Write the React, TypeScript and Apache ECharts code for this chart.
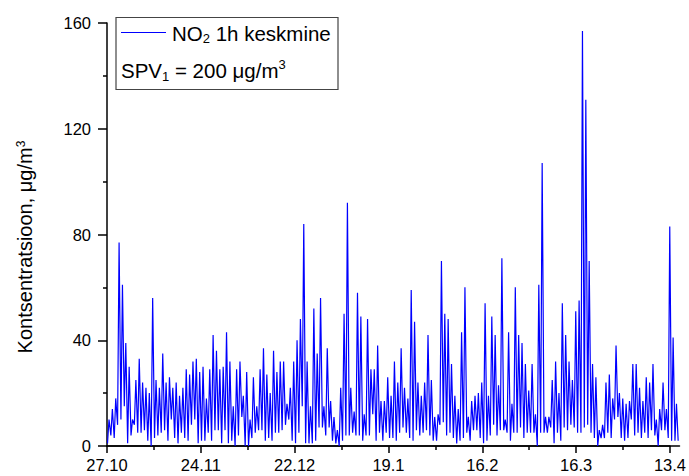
import React, { useEffect, useRef } from "react";
import * as echarts from "echarts";

// Day offsets are counted from 27.10; one high and one low per day
const tickLabels = ["27.10", "24.11", "22.12", "19.1", "16.2", "16.3", "13.4"];

const dailyHigh = [
  10, 14, 18, 77, 61, 39, 30, 10, 25, 33,
  24, 22, 20, 56, 25, 22, 35, 24, 26, 22,
  24, 19, 22, 29, 27, 32, 33, 28, 30, 18,
  29, 42, 36, 29, 30, 43, 32, 15, 29, 32,
  19, 28, 10, 26, 15, 29, 37, 27, 20, 36,
  28, 32, 32, 16, 22, 32, 40, 48, 84, 32,
  15, 52, 35, 56, 15, 37, 17, 11, 6, 22,
  50, 92, 22, 13, 58, 49, 12, 48, 29, 29,
  38, 17, 17, 26, 19, 32, 24, 37, 22, 18,
  59, 47, 24, 19, 24, 42, 25, 11, 12, 70,
  50, 48, 31, 19, 14, 43, 60, 11, 17, 19,
  20, 24, 54, 19, 49, 42, 23, 71, 10, 43,
  16, 60, 42, 39, 31, 21, 31, 12, 61, 107,
  11, 11, 25, 32, 20, 54, 42, 32, 25, 51,
  55, 157, 131, 70, 31, 26, 6, 8, 24, 27,
  18, 38, 20, 18, 16, 17, 31, 31, 22, 17,
  26, 24, 31, 10, 14, 24, 14, 83, 41, 16,
];

const dailyLow = [
  1, 4, 3, 8, 10, 15, 1, 4, 8, 5,
  5, 6, 2, 0, 3, 4, 5, 6, 2, 10,
  3, 1, 5, 3, 2, 8, 10, 1, 2, 2,
  5, 2, 6, 6, 1, 6, 1, 2, 0, 4,
  11, 0, 0, 3, 5, 6, 6, 2, 3, 2,
  5, 5, 6, 8, 10, 2, 1, 5, 15, 1,
  1, 1, 2, 7, 7, 4, 7, 2, 1, 0,
  2, 4, 4, 5, 4, 4, 2, 4, 4, 12,
  2, 5, 2, 5, 3, 3, 2, 5, 7, 5,
  3, 2, 6, 4, 5, 6, 4, 2, 2, 8,
  9, 4, 5, 3, 1, 2, 3, 5, 2, 6,
  6, 3, 1, 2, 4, 8, 4, 6, 6, 5,
  2, 5, 5, 7, 3, 5, 5, 5, 0, 5,
  5, 5, 7, 1, 5, 2, 7, 6, 8, 7,
  5, 5, 7, 8, 5, 3, 0, 3, 3, 5,
  3, 10, 11, 3, 2, 3, 10, 4, 5, 3,
  5, 3, 6, 4, 0, 6, 6, 3, 2, 2,
];

const FONT = "'Liberation Sans', Arial, Helvetica, sans-serif";

export default function App() {
  const ref = useRef<HTMLDivElement>(null);

  useEffect(() => {
    document.body.style.margin = "0";
    if (!ref.current) return;
    const chart = echarts.init(ref.current, null, { renderer: "svg" });

    const data: [number, number][] = [];
    for (let d = 0; d < dailyHigh.length; d++) {
      data.push([d + 0.15, dailyLow[d]]);
      data.push([d + 0.6, dailyHigh[d]]);
    }
    data.push([dailyHigh.length + 0.1, 2]);

    const axisColor = "#000";

    chart.setOption({
      animation: false,
      backgroundColor: "#fff",
      textStyle: { fontFamily: FONT },
      grid: [
        { left: 107, right: 9.5, top: 23, bottom: 30 },
        { left: 107, right: 18, top: 23, bottom: 30 },
      ],
      xAxis: [
        {
          gridIndex: 0,
          type: "value",
          min: 0,
          max: 170.5,
          axisLine: { show: true, lineStyle: { color: axisColor, width: 1.5 } },
          axisTick: { show: false },
          axisLabel: { show: false },
          splitLine: { show: false },
        },
        {
          gridIndex: 1,
          type: "value",
          min: 0,
          max: 168,
          interval: 28,
          axisLine: { show: true, lineStyle: { color: axisColor, width: 1.5 } },
          axisTick: { show: true, length: 7, lineStyle: { color: axisColor, width: 1.5 } },
          minorTick: { show: true, splitNumber: 2, length: 4, lineStyle: { color: axisColor, width: 1.5 } },
          axisLabel: {
            show: true,
            margin: 10,
            fontSize: 16.5,
            color: "#000",
            fontFamily: FONT,
            formatter: (v: number) => tickLabels[Math.round(v / 28)] ?? "",
          },
          splitLine: { show: false },
        },
      ],
      yAxis: [
        {
          gridIndex: 0,
          type: "value",
          min: 0,
          max: 160,
          interval: 40,
          axisLine: { show: true, lineStyle: { color: axisColor, width: 1.5 } },
          axisTick: { show: true, length: 9, lineStyle: { color: axisColor, width: 1.5 } },
          minorTick: { show: true, splitNumber: 2, length: 4, lineStyle: { color: axisColor, width: 1.5 } },
          axisLabel: { margin: 16, fontSize: 16.5, color: "#000", fontFamily: FONT },
          splitLine: { show: false },
        },
        {
          gridIndex: 1,
          type: "value",
          min: 0,
          max: 160,
          show: false,
        },
      ],
      series: [
        {
          type: "line",
          xAxisIndex: 0,
          yAxisIndex: 0,
          data,
          showSymbol: false,
          lineStyle: { color: "#0000ff", width: 1.2 },
          itemStyle: { color: "#0000ff" },
          clip: true,
        },
      ],
      graphic: [
        {
          type: "text",
          x: 25,
          y: 247,
          rotation: Math.PI / 2,
          style: {
            text: "Kontsentratsioon, μg/m{sup|3}",
            fontSize: 20,
            fontFamily: FONT,
            fill: "#000",
            align: "center",
            verticalAlign: "middle",
            rich: {
              sup: { fontSize: 12, fontFamily: FONT, fill: "#000", verticalAlign: "top", padding: [0, 0, 8, 0] },
            },
          },
        },
        {
          type: "rect",
          shape: { x: 116, y: 17.5, width: 222, height: 72 },
          style: { fill: "#fff", stroke: "#444", lineWidth: 1.2 },
          z: 10,
        },
        {
          type: "line",
          shape: { x1: 121, y1: 32.5, x2: 166, y2: 32.5 },
          style: { stroke: "#0000ff", lineWidth: 1 },
          z: 11,
        },
        {
          type: "text",
          x: 172,
          y: 33,
          z: 11,
          style: {
            text: "NO{sub|2} 1h keskmine",
            fontSize: 20.5,
            fontFamily: FONT,
            fill: "#000",
            align: "left",
            verticalAlign: "middle",
            rich: {
              sub: { fontSize: 13, fontFamily: FONT, fill: "#000", verticalAlign: "bottom", padding: [11, 0, 0, 0] },
            },
          },
        },
        {
          type: "text",
          x: 121,
          y: 70,
          z: 11,
          style: {
            text: "SPV{sub|1} = 200 μg/m{sup|3}",
            fontSize: 20.5,
            fontFamily: FONT,
            fill: "#000",
            align: "left",
            verticalAlign: "middle",
            rich: {
              sub: { fontSize: 13, fontFamily: FONT, fill: "#000", verticalAlign: "bottom", padding: [12, 0, 0, 0] },
              sup: { fontSize: 13, fontFamily: FONT, fill: "#000", verticalAlign: "top", padding: [0, 0, 9, 0] },
            },
          },
        },
      ],
    });

    return () => chart.dispose();
  }, []);

  return <div ref={ref} style={{ width: 689, height: 476 }} />;
}
